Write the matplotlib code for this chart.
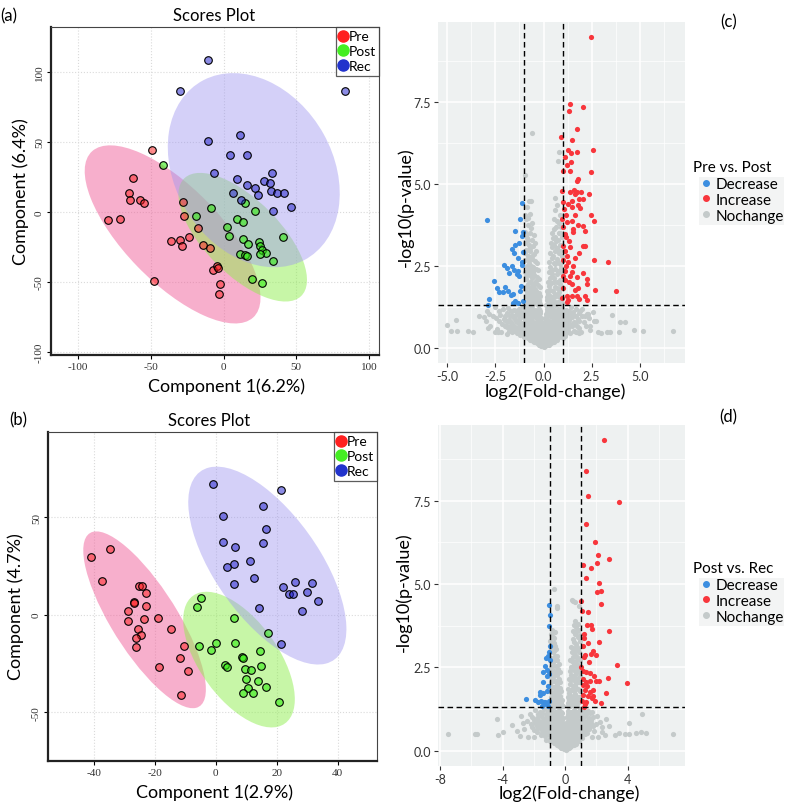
import numpy as np
import matplotlib.pyplot as plt
from matplotlib.patches import Ellipse, Rectangle
from matplotlib.lines import Line2D

plt.rcParams['font.family'] = ['Lato', 'DejaVu Sans']

# ---------------- scores plot (a): Pre / Post / Rec
pre_a = [(-49.3, 44.2), (-62.3, 24.0), (-65.0, 13.8), (-64.1, 8.8), (-57.7, 8.8), (-55.0, 6.2),
         (-79.4, -5.7), (-71.4, -4.8), (-27.8, 6.9), (-27.3, -2.9), (-17.7, -11.4), (-23.9, -17.6),
         (-36.2, -20.7), (-29.6, -20.0), (-28.4, -24.5), (-14.1, -23.3), (-9.3, -25.9), (-7.4, -41.1),
         (-4.2, -38.7), (-3.5, -40.1), (-48.0, -49.4), (-2.6, -51.3), (-3.1, -58.7)]
post_a = [(-41.7, 33.7), (-8.3, 2.6), (-18.9, -2.9), (15.0, 6.2), (21.8, 0.5), (9.6, -4.8),
          (13.5, -7.4), (2.4, -10.9), (3.5, -17.3), (13.5, -19.2), (16.8, -22.8), (24.1, -21.1),
          (24.8, -24.5), (26.2, -26.8), (29.0, -29.2), (25.3, -29.9), (11.3, -29.7), (15.1, -30.6),
          (16.3, -31.6), (34.2, -34.7), (40.6, -18.1), (19.5, -47.7), (26.6, -50.4)]
rec_a = [(-10.6, 108.1), (-29.6, 86.2), (83.8, 86.2), (11.3, 55.1), (-10.9, 50.8), (4.5, 40.9),
         (16.1, 40.9), (-6.3, 27.6), (9.0, 23.3), (16.3, 19.2), (21.6, 17.1), (24.0, 12.1),
         (6.3, 13.8), (12.0, 8.3), (28.0, 22.3), (32.0, 20.9), (33.6, 28.0), (32.8, 15.2),
         (37.1, 13.8), (41.7, 13.8), (46.3, 3.8), (34.2, 0.5)]
# ellipses: centre x, centre y, width, height, angle (data units)
ell_a = [(-35.0, -16.0, 162.2, 66.6, -47.0),
         (13.2, -18.0, 116.2, 52.2, -46.6),
         (20.8, 29.8, 145.8, 109.0, -61.8)]

# ---------------- scores plot (b)
pre_b = [(-41.1, 29.7), (-34.9, 33.8), (-37.4, 17.3), (-25.2, 14.5), (-24.1, 14.9), (-22.8, 10.9),
         (-27.0, 6.7), (-26.9, 6.2), (-29.0, 2.1), (-22.8, 4.4), (-29.0, -3.1), (-23.6, -2.2),
         (-19.1, -1.9), (-25.5, -7.4), (-24.5, -10.3), (-26.1, -12.1), (-26.1, -16.8), (-14.7, -7.2),
         (-10.5, -16.2), (-11.7, -22.4), (-18.8, -27.0), (-9.0, -28.7), (-11.6, -41.4)]
post_b = [(-5.0, 8.7), (-6.3, 4.1), (5.9, -1.7), (17.2, -9.4), (-5.6, -16.2), (-1.6, -17.9),
          (-0.1, -14.5), (6.2, -14.5), (14.4, -18.5), (8.5, -21.9), (9.0, -22.2), (3.0, -25.6),
          (3.5, -26.8), (9.6, -27.7), (11.4, -28.5), (14.7, -26.2), (9.8, -33.2), (13.9, -33.8),
          (16.4, -37.3), (10.6, -37.8), (8.8, -40.3), (12.1, -40.2), (20.6, -44.6)]
rec_b = [(-0.8, 67.0), (21.3, 64.1), (15.6, 55.6), (2.4, 50.4), (16.3, 43.9), (2.2, 37.3),
         (6.2, 34.7), (15.4, 36.6), (11.1, 27.4), (5.9, 25.8), (3.8, 24.4), (12.5, 19.0),
         (6.0, 15.6), (22.0, 14.4), (26.0, 16.6), (31.4, 16.4), (23.9, 10.6), (25.4, 10.4),
         (29.8, 11.6), (33.4, 7.0), (14.2, 3.2), (28.4, 1.9), (21.4, -15.0)]
ell_b = [(-23.4, -2.6, 96.4, 23.4, -69.5),
         (7.6, -23.0, 73.4, 28.2, -69.8),
         (16.9, 25.2, 107.6, 37.6, -69.2)]

# ---------------- volcano (c): Pre vs. Post
inc_c = [(2.47, 9.50), (1.36, 7.44), (2.04, 7.35), (1.33, 7.24), (1.76, 6.69), (1.46, 6.35),
         (0.93, 6.44), (1.26, 6.04), (1.43, 5.95), (1.72, 5.99), (2.59, 6.04), (1.10, 5.84),
         (1.45, 5.67), (1.20, 5.57), (1.00, 5.41), (1.38, 5.41), (2.45, 5.38), (1.78, 5.16),
         (1.74, 5.11), (0.98, 4.80), (1.40, 4.77), (1.57, 4.83), (1.76, 4.75), (1.97, 4.77),
         (2.37, 4.70), (1.65, 4.70), (1.03, 4.45), (1.48, 4.50), (1.86, 4.55), (2.07, 4.55),
         (1.26, 4.40), (1.81, 4.35), (1.46, 4.29), (1.07, 4.24), (1.88, 4.27), (2.47, 4.06),
         (2.61, 3.89), (1.17, 4.06), (0.96, 3.94), (1.20, 3.84), (1.48, 3.89), (1.78, 3.75),
         (2.04, 3.73), (2.16, 3.58), (1.03, 3.68), (1.55, 3.63), (1.52, 3.53), (1.10, 3.48),
         (1.15, 3.38), (1.03, 3.12), (1.36, 3.07), (2.04, 3.12), (2.14, 3.10), (1.10, 2.97),
         (1.86, 2.90), (1.20, 2.82), (1.03, 2.67), (2.61, 2.69), (3.35, 2.62), (1.17, 2.49),
         (1.55, 2.51), (1.12, 2.36), (1.46, 2.31), (2.04, 2.29), (1.03, 2.21), (1.38, 2.21),
         (1.72, 2.16), (2.26, 2.11), (2.26, 1.95), (1.10, 2.06), (1.35, 2.00), (1.50, 1.95),
         (1.03, 1.82), (1.64, 1.78), (1.78, 1.82), (2.69, 1.77), (3.75, 1.73), (1.20, 1.60),
         (1.46, 1.58), (1.72, 1.60), (1.29, 1.47), (1.83, 1.48), (2.26, 1.47), (1.20, 1.41),
         (0.96, 1.52), (2.16, 1.58), (1.25, 2.62), (1.62, 2.75), (1.30, 3.25), (1.65, 4.05)]
dec_c = [(-2.94, 3.92), (-1.10, 4.43), (-1.22, 3.94), (-1.46, 3.56), (-1.13, 3.41), (-1.29, 3.21),
         (-1.48, 3.15), (-1.64, 3.02), (-1.55, 2.89), (-1.08, 2.94), (-1.32, 2.74), (-2.05, 2.54),
         (-1.92, 2.43), (-1.66, 2.51), (-1.53, 2.39), (-1.31, 2.36), (-1.14, 2.53), (-1.40, 2.26),
         (-1.26, 2.19), (-1.79, 2.29), (-2.57, 2.03), (-2.42, 1.84), (-2.29, 1.72), (-2.00, 1.86),
         (-2.08, 1.70), (-1.82, 1.74), (-1.70, 1.62), (-1.57, 1.65), (-1.19, 1.90), (-1.22, 1.75),
         (-2.85, 1.50), (-2.90, 1.31), (-1.48, 1.44), (-1.34, 1.37), (-1.60, 1.37), (-1.08, 1.44),
         (-1.12, 2.62), (-1.08, 3.53)]
same_c = [(-0.58, 6.55), (0.81, 5.99), (0.75, 5.71), (-0.98, 5.28), (-0.65, 4.50), (0.58, 4.57),
          (-0.75, 4.48), (-0.95, 4.05),
          (-0.92, 3.95), (-0.8, 3.75), (-0.95, 3.55), (-0.72, 3.5), (-0.86, 3.35), (-0.62, 3.3),
          (-0.98, 3.2), (-0.76, 3.15), (-0.55, 3.1), (-0.9, 3.0), (-0.68, 2.95), (-0.5, 2.88),
          (-0.82, 2.8), (-0.6, 2.72), (-0.95, 2.68), (-0.45, 2.65), (-0.74, 2.58), (-0.88, 2.5),
          (-0.55, 2.48), (-0.4, 2.42), (-0.66, 2.38), (-0.96, 2.32), (-0.8, 2.28), (-0.48, 2.22),
          (-0.35, 2.18), (-0.6, 2.12), (-0.9, 2.1), (-0.72, 2.02), (-0.42, 1.98), (-0.3, 1.92),
          (-0.55, 1.9), (-0.85, 1.88), (-0.98, 1.8), (-0.65, 1.78), (-0.38, 1.74), (-0.26, 1.68),
          (-0.5, 1.66), (-0.76, 1.64), (-0.92, 1.58), (-0.6, 1.55), (-0.32, 1.52), (-0.22, 1.45),
          (-0.44, 1.42), (-0.7, 1.44), (-0.84, 1.4), (-0.98, 1.36), (-0.55, 1.34), (-0.3, 1.32),
          (-0.85, 4.3), (-0.68, 4.1), (-0.82, 3.98), (-0.58, 3.8), (-0.66, 3.65), (-0.9, 3.45),
          (-0.5, 3.45), (-0.8, 3.3), (-0.45, 3.2), (-0.7, 3.05), (-0.95, 2.9), (-0.38, 2.95),
          (-0.58, 2.82), (-0.75, 2.72), (-0.35, 2.6), (-0.65, 2.5), (-0.82, 2.4), (-0.28, 2.38),
          (-0.52, 2.32), (-0.7, 2.22), (-0.92, 2.2), (-0.25, 2.1), (-0.4, 2.05), (-0.62, 1.98),
          (-0.8, 1.96), (-0.2, 1.85), (-0.46, 1.8), (-0.7, 1.82), (-0.88, 1.72), (-0.34, 1.62),
          (-0.62, 1.68), (-0.18, 1.58), (-0.44, 1.55), (-0.8, 1.52), (-0.26, 1.4), (-0.52, 1.45),
          (-0.66, 1.3), (-0.9, 1.3), (-0.16, 1.35),
          (0.62, 4.2), (0.85, 4.05), (0.7, 3.88), (0.92, 3.7), (0.55, 3.62), (0.78, 3.5),
          (0.96, 3.4), (0.5, 3.35), (0.66, 3.25), (0.88, 3.15), (0.45, 3.08), (0.58, 2.95),
          (0.8, 2.9), (0.95, 2.8), (0.42, 2.75), (0.68, 2.7), (0.52, 2.58), (0.86, 2.55),
          (0.36, 2.48), (0.62, 2.42), (0.75, 2.35), (0.95, 2.3), (0.45, 2.25), (0.32, 2.15),
          (0.56, 2.12), (0.84, 2.08), (0.7, 2.0), (0.4, 1.98), (0.28, 1.88), (0.6, 1.85),
          (0.92, 1.82), (0.5, 1.75), (0.78, 1.72), (0.24, 1.65), (0.36, 1.6), (0.66, 1.58),
          (0.88, 1.55), (0.45, 1.5), (0.2, 1.45), (0.56, 1.42), (0.74, 1.4), (0.98, 1.38),
          (0.32, 1.35), (0.62, 1.32),
          (0.72, 4.35), (0.55, 3.95), (0.82, 3.8), (0.65, 3.7), (0.45, 3.5), (0.88, 3.5),
          (0.6, 3.4), (0.75, 3.3), (0.4, 3.2), (0.95, 3.15), (0.52, 3.15), (0.7, 3.05),
          (0.36, 2.9), (0.85, 2.95), (0.5, 2.82), (0.75, 2.62), (0.3, 2.62), (0.6, 2.55),
          (0.92, 2.45), (0.45, 2.38), (0.28, 2.32), (0.68, 2.25), (0.52, 2.02), (0.22, 2.0),
          (0.85, 1.95), (0.35, 1.78), (0.7, 1.82), (0.18, 1.75), (0.58, 1.65), (0.8, 1.6),
          (0.3, 1.45), (0.4, 1.35), (0.85, 1.42), (0.16, 1.55), (0.5, 1.55), (0.15, 1.3),
          (-2.52, 1.24), (-2.1, 1.18), (-1.82, 1.22), (-1.55, 1.15), (-1.28, 1.2), (-1.05, 1.25),
          (-0.82, 1.18), (-0.62, 1.22), (-0.42, 1.16), (-0.24, 1.2), (0.2, 1.18), (0.38, 1.24),
          (0.55, 1.15), (0.75, 1.2), (0.95, 1.22), (1.18, 1.16), (1.42, 1.25), (1.7, 1.18),
          (2.02, 1.2), (2.33, 1.04),
          (-2.3, 1.12), (-1.7, 1.12), (-1.42, 1.14), (-1.18, 1.1), (-0.95, 1.14), (-0.72, 1.1),
          (-0.52, 1.14), (-0.34, 1.1), (-0.18, 1.13), (0.18, 1.1), (0.34, 1.14), (0.6, 1.1),
          (0.85, 1.13), (1.05, 1.1), (1.3, 1.14), (1.55, 1.1), (1.88, 1.12),
          (-2.83, 1.04), (-2.25, 1.02), (-1.92, 1.08), (-1.65, 1.0), (-1.38, 1.06), (-1.12, 1.02),
          (-0.92, 1.08), (-0.72, 1.0), (-0.52, 1.05), (-0.32, 1.02), (-0.16, 1.06), (0.14, 1.04),
          (0.3, 1.0), (0.48, 1.07), (0.66, 1.02), (0.86, 1.06), (1.08, 1.0), (1.3, 1.08),
          (1.55, 1.02), (1.86, 1.06), (2.26, 1.04), (2.0, 0.99),
          (-2.6, 0.98), (-2.0, 0.96), (-1.75, 0.97), (-1.48, 0.98), (-1.22, 0.96), (-1.0, 0.98),
          (-0.8, 0.97), (-0.6, 0.96), (-0.4, 0.98), (-0.22, 0.96), (0.2, 0.97), (0.38, 0.96),
          (0.56, 0.98), (0.76, 0.96), (0.96, 0.98), (1.18, 0.96), (1.42, 0.97), (1.68, 0.98),
          (2.15, 0.96),
          (-3.0, 0.83), (-2.45, 0.92), (-2.07, 0.89), (-1.78, 0.86), (-1.52, 0.92), (-1.26, 0.88),
          (-1.04, 0.94), (-0.85, 0.86), (-0.65, 0.9), (-0.46, 0.94), (-0.28, 0.88), (-0.12, 0.92),
          (0.1, 0.9), (0.24, 0.86), (0.42, 0.93), (0.62, 0.88), (0.82, 0.92), (1.02, 0.86),
          (1.26, 0.9), (1.5, 0.94), (1.78, 0.88), (2.35, 0.91), (2.6, 0.83),
          (-2.3, 0.82), (-1.98, 0.84), (-1.7, 0.8), (-1.45, 0.82), (-1.2, 0.8), (-0.98, 0.84),
          (-0.78, 0.81), (-0.58, 0.83), (-0.38, 0.8), (-0.2, 0.83), (0.03, 0.8), (0.18, 0.82),
          (0.34, 0.8), (0.52, 0.84), (0.72, 0.8), (0.92, 0.83), (1.12, 0.81), (1.34, 0.84),
          (1.56, 0.8), (1.85, 0.82),
          (-2.77, 0.68), (-2.16, 0.73), (-1.88, 0.78), (-1.62, 0.72), (-1.38, 0.8), (-1.16, 0.74),
          (-0.96, 0.78), (-0.76, 0.72), (-0.56, 0.77), (-0.38, 0.72), (-0.2, 0.76), (-0.07, 0.7),
          (0.08, 0.74), (0.2, 0.7), (0.36, 0.78), (0.54, 0.73), (0.74, 0.77), (0.94, 0.72),
          (1.15, 0.78), (1.38, 0.72), (1.62, 0.76), (2.09, 0.78), (2.43, 0.68),
          (-2.0, 0.68), (-1.76, 0.66), (-1.52, 0.68), (-1.28, 0.66), (-1.08, 0.68), (-0.88, 0.66),
          (-0.7, 0.68), (-0.5, 0.66), (-0.34, 0.68), (-0.12, 0.66), (0.0, 0.68), (0.12, 0.66),
          (0.28, 0.68), (0.44, 0.66), (0.62, 0.68), (0.84, 0.66), (1.04, 0.68), (1.26, 0.66),
          (1.5, 0.68), (1.75, 0.66), (2.2, 0.66),
          (-2.44, 0.58), (-1.9, 0.63), (-1.66, 0.57), (-1.42, 0.62), (-1.2, 0.58), (-1.0, 0.63),
          (-0.8, 0.57), (-0.62, 0.61), (-0.45, 0.58), (-0.3, 0.62), (-0.16, 0.57), (-0.05, 0.6),
          (0.05, 0.58), (0.17, 0.62), (0.32, 0.57), (0.48, 0.61), (0.66, 0.58), (0.86, 0.62),
          (1.06, 0.57), (1.28, 0.61), (1.57, 0.53), (1.82, 0.6),
          (-1.8, 0.53), (-1.52, 0.52), (-1.28, 0.54), (-1.06, 0.51), (-0.84, 0.53), (-0.64, 0.52),
          (-0.48, 0.54), (-0.34, 0.51), (-0.2, 0.53), (-0.06, 0.51), (0.06, 0.53), (0.2, 0.51),
          (0.34, 0.54), (0.5, 0.52), (0.66, 0.54), (0.84, 0.51), (1.04, 0.53), (1.26, 0.52),
          (1.7, 0.5),
          (-2.35, 0.48), (-1.64, 0.48), (-1.4, 0.45), (-1.16, 0.47), (-0.94, 0.44), (-0.74, 0.47),
          (-0.56, 0.44), (-0.4, 0.47), (-0.26, 0.44), (-0.13, 0.46), (0.0, 0.44), (0.12, 0.47),
          (0.26, 0.44), (0.4, 0.46), (0.56, 0.44), (0.74, 0.47), (0.94, 0.44), (1.16, 0.46),
          (1.4, 0.45), (1.97, 0.48), (2.85, 0.5),
          (-1.2, 0.38), (-0.88, 0.37), (-0.66, 0.39), (-0.48, 0.37), (-0.34, 0.39), (-0.2, 0.37),
          (-0.08, 0.39), (0.04, 0.37), (0.16, 0.39), (0.3, 0.37), (0.46, 0.39), (0.64, 0.37),
          (0.86, 0.39), (1.1, 0.37),
          (-1.0, 0.32), (-0.78, 0.3), (-0.58, 0.33), (-0.42, 0.29), (-0.28, 0.32), (-0.15, 0.3),
          (-0.04, 0.33), (0.06, 0.29), (0.18, 0.32), (0.3, 0.3), (0.45, 0.33), (0.62, 0.29),
          (0.8, 0.32), (1.0, 0.3),
          (-0.7, 0.23), (-0.52, 0.22), (-0.38, 0.24), (-0.24, 0.22), (-0.12, 0.24), (0.0, 0.22),
          (0.12, 0.24), (0.24, 0.22), (0.36, 0.24), (0.52, 0.22), (0.7, 0.24),
          (-0.5, 0.18), (-0.35, 0.15), (-0.22, 0.17), (-0.1, 0.14), (0.02, 0.16), (0.14, 0.14),
          (0.27, 0.17), (0.4, 0.15), (0.55, 0.18), (-0.12, 0.06), (0.0, 0.03), (0.1, 0.05),
          (-0.26, 0.1), (-0.16, 0.08), (0.06, 0.1), (0.2, 0.09), (0.3, 0.1),
          (-5.0, 0.70), (-4.55, 0.86), (-4.81, 0.51), (-4.51, 0.51), (-3.94, 0.51), (-3.65, 0.50),
          (-3.34, 0.99), (-2.94, 1.14), (-2.9, 0.62), (-2.5, 0.48), (3.54, 1.01), (3.28, 0.5),
          (3.47, 0.48), (3.98, 0.80), (4.24, 0.78), (3.94, 0.50), (4.7, 0.55), (5.19, 0.51),
          (6.73, 0.51), (2.73, 0.83), (2.42, 0.55), (3.0, 0.45), (2.55, 1.1), (1.85, 0.45),
          (-2.2, 0.5), (-1.9, 0.42), (-3.1, 0.95)]

# ---------------- volcano (d): Post vs. Rec
inc_d = [(2.49, 9.33), (1.30, 8.40), (1.45, 7.64), (3.41, 7.46), (1.32, 6.81), (1.88, 6.27),
         (2.11, 5.87), (2.79, 5.74), (1.17, 5.58), (2.05, 5.62), (1.62, 5.47), (1.34, 5.18),
         (2.13, 5.04), (2.03, 4.77), (2.32, 4.78), (1.02, 4.50), (2.28, 4.39), (1.09, 4.18),
         (1.49, 4.15), (1.41, 3.77), (1.62, 3.77), (1.73, 3.65), (1.19, 3.49), (1.19, 3.39),
         (2.81, 3.58), (1.43, 3.23), (1.15, 3.13), (2.15, 3.25), (1.79, 2.98), (1.66, 2.90),
         (2.00, 2.87), (1.26, 2.87), (1.19, 2.80), (1.54, 2.65), (1.02, 2.50), (1.15, 2.40),
         (1.32, 2.35), (1.60, 2.33), (1.83, 2.25), (3.30, 2.56), (2.75, 2.17), (3.97, 2.04),
         (1.15, 2.15), (1.36, 2.07), (1.58, 2.10), (1.94, 2.10), (2.17, 2.10), (1.11, 1.97),
         (1.41, 1.95), (1.26, 1.83), (1.58, 1.75), (1.77, 1.82), (2.58, 1.73), (1.11, 1.67),
         (1.47, 1.63), (1.79, 1.65), (1.09, 1.50), (1.36, 1.47), (1.90, 1.49), (2.26, 1.43),
         (1.28, 1.40), (1.19, 1.32), (1.70, 1.57)]
dec_d = [(-1.02, 4.38), (-0.98, 4.07), (-1.02, 3.75), (-0.98, 3.13), (-1.04, 2.95), (-1.11, 2.85),
         (-1.22, 2.77), (-0.98, 2.73), (-1.32, 2.55), (-1.19, 2.43), (-1.39, 2.35), (-1.19, 2.25),
         (-1.02, 2.30), (-1.41, 2.07), (-1.07, 1.95), (-1.58, 1.77), (-1.41, 1.73), (-1.62, 1.67),
         (-2.52, 1.55), (-1.90, 1.53), (-1.71, 1.45), (-1.56, 1.50), (-1.36, 1.45), (-1.24, 1.40),
         (-1.09, 1.35), (-1.51, 1.35), (-1.02, 1.50), (-1.19, 1.80), (-1.28, 1.45)]
same_d = [(-0.72, 4.85), (-0.51, 4.35), (-0.55, 4.27), (0.51, 4.5), (0.62, 4.45), (0.9, 4.35),
          (0.45, 4.52),
          (-0.85, 3.62), (-0.62, 3.55), (-0.78, 3.4), (-0.95, 3.3), (-0.7, 3.22), (-0.88, 3.1),
          (-0.58, 3.05), (-0.8, 2.95), (-0.66, 2.85), (-0.92, 2.78), (-0.52, 2.72), (-0.75, 2.65),
          (-0.6, 2.55), (-0.88, 2.5), (-0.45, 2.45), (-0.7, 2.4), (-0.95, 2.32), (-0.55, 2.28),
          (-0.8, 2.2), (-0.4, 2.15), (-0.65, 2.1), (-0.9, 2.05), (-0.5, 1.98), (-0.75, 1.92),
          (-0.35, 1.88), (-0.6, 1.82), (-0.95, 1.78), (-0.45, 1.72), (-0.82, 1.7), (-0.3, 1.65),
          (-0.68, 1.6), (-0.55, 1.52), (-0.92, 1.5), (-0.38, 1.48), (-0.25, 1.42), (-0.76, 1.42),
          (-0.62, 1.36), (-0.45, 1.34), (-0.98, 1.35), (-0.3, 1.32),
          (-0.9, 3.5), (-0.72, 3.38), (-0.85, 3.2), (-0.62, 3.15), (-0.95, 3.0), (-0.72, 2.98),
          (-0.5, 2.85), (-0.85, 2.7), (-0.65, 2.72), (-0.42, 2.6), (-0.78, 2.55), (-0.95, 2.45),
          (-0.55, 2.4), (-0.35, 2.35), (-0.68, 2.3), (-0.88, 2.2), (-0.48, 2.12), (-0.3, 2.05),
          (-0.78, 2.08), (-0.6, 1.95), (-0.92, 1.92), (-0.4, 1.85), (-0.25, 1.8), (-0.7, 1.75),
          (-0.52, 1.7), (-0.88, 1.62), (-0.35, 1.58), (-0.2, 1.52), (-0.62, 1.48), (-0.8, 1.55),
          (-0.45, 1.42), (-0.9, 1.4), (-0.7, 1.3), (-0.15, 1.35),
          (0.55, 3.78), (0.72, 3.7), (0.88, 3.62), (0.62, 3.5), (0.8, 3.42), (0.48, 3.35),
          (0.95, 3.3), (0.68, 3.2), (0.52, 3.08), (0.85, 3.05), (0.42, 2.95), (0.6, 2.88),
          (0.78, 2.8), (0.95, 2.72), (0.46, 2.68), (0.66, 2.6), (0.38, 2.5), (0.86, 2.48),
          (0.55, 2.42), (0.72, 2.35), (0.34, 2.28), (0.95, 2.25), (0.48, 2.18), (0.62, 2.1),
          (0.82, 2.05), (0.3, 2.0), (0.55, 1.95), (0.72, 1.88), (0.4, 1.82), (0.92, 1.8),
          (0.26, 1.72), (0.6, 1.7), (0.8, 1.62), (0.46, 1.58), (0.22, 1.52), (0.68, 1.5),
          (0.9, 1.45), (0.35, 1.42), (0.55, 1.38), (0.2, 1.35), (0.78, 1.34),
          (0.62, 3.9), (0.8, 3.8), (0.48, 3.6), (0.7, 3.55), (0.92, 3.48), (0.55, 3.25),
          (0.78, 3.12), (0.4, 3.1), (0.62, 3.0), (0.9, 2.95), (0.5, 2.8), (0.72, 2.7),
          (0.32, 2.72), (0.58, 2.6), (0.82, 2.58), (0.45, 2.5), (0.68, 2.48), (0.28, 2.4),
          (0.88, 2.35), (0.6, 2.28), (0.4, 2.12), (0.75, 2.15), (0.25, 2.15), (0.92, 2.05),
          (0.48, 1.95), (0.65, 1.98), (0.2, 1.85), (0.82, 1.85), (0.55, 1.8), (0.35, 1.65),
          (0.7, 1.6), (0.95, 1.6), (0.18, 1.6), (0.5, 1.48), (0.28, 1.35), (0.68, 1.35),
          (0.85, 1.55), (0.15, 1.42),
          (-2.24, 1.1), (-1.9, 1.22), (-1.6, 1.16), (-1.35, 1.24), (-1.1, 1.18), (-0.88, 1.22),
          (-0.68, 1.15), (-0.48, 1.2), (-0.28, 1.16), (0.2, 1.2), (0.38, 1.15), (0.56, 1.22),
          (0.76, 1.16), (0.96, 1.24), (1.2, 1.18), (1.45, 1.2), (1.7, 1.15), (2.03, 1.05),
          (-1.75, 1.1), (-1.48, 1.12), (-1.22, 1.1), (-0.98, 1.13), (-0.78, 1.1), (-0.58, 1.12),
          (-0.38, 1.1), (-0.2, 1.12), (0.18, 1.1), (0.3, 1.12), (0.48, 1.1), (0.66, 1.12),
          (0.86, 1.1), (1.08, 1.12), (1.32, 1.1), (1.58, 1.12),
          (-2.45, 0.9), (-2.1, 1.02), (-1.82, 0.98), (-1.55, 1.04), (-1.3, 0.98), (-1.08, 1.04),
          (-0.86, 0.98), (-0.66, 1.03), (-0.46, 0.97), (-0.28, 1.02), (-0.14, 0.98), (0.12, 1.02),
          (0.28, 0.97), (0.46, 1.03), (0.65, 0.98), (0.84, 1.04), (1.05, 0.98), (1.28, 1.03),
          (1.52, 0.97), (1.8, 1.02), (2.24, 0.85),
          (-2.0, 0.92), (-1.7, 0.9), (-1.42, 0.92), (-1.18, 0.9), (-0.96, 0.92), (-0.76, 0.9),
          (-0.56, 0.92), (-0.36, 0.9), (-0.18, 0.92), (0.2, 0.9), (0.36, 0.92), (0.56, 0.9),
          (0.74, 0.92), (0.94, 0.9), (1.16, 0.92), (1.4, 0.9), (1.66, 0.92),
          (-2.71, 0.82), (-2.2, 0.8), (-1.92, 0.84), (-1.66, 0.78), (-1.4, 0.84), (-1.16, 0.8),
          (-0.95, 0.85), (-0.75, 0.79), (-0.56, 0.84), (-0.38, 0.8), (-0.2, 0.83), (-0.08, 0.78),
          (0.08, 0.82), (0.2, 0.78), (0.36, 0.84), (0.55, 0.79), (0.74, 0.84), (0.94, 0.8),
          (1.16, 0.84), (1.4, 0.78), (1.66, 0.83), (1.95, 0.8), (2.35, 0.7),
          (-2.1, 0.72), (-1.8, 0.73), (-1.55, 0.72), (-1.3, 0.74), (-1.08, 0.72), (-0.88, 0.73),
          (-0.68, 0.72), (-0.48, 0.74), (-0.3, 0.72), (-0.12, 0.73), (0.02, 0.72), (0.14, 0.74),
          (0.28, 0.72), (0.45, 0.74), (0.64, 0.72), (0.84, 0.74), (1.05, 0.72), (1.28, 0.74),
          (1.52, 0.72), (1.8, 0.73),
          (-2.62, 0.65), (-2.0, 0.62), (-1.75, 0.67), (-1.5, 0.62), (-1.26, 0.67), (-1.04, 0.62),
          (-0.84, 0.66), (-0.64, 0.61), (-0.46, 0.66), (-0.3, 0.62), (-0.16, 0.66), (-0.05, 0.62),
          (0.05, 0.66), (0.16, 0.62), (0.3, 0.66), (0.46, 0.61), (0.64, 0.66), (0.84, 0.62),
          (1.05, 0.66), (1.28, 0.61), (1.55, 0.66), (1.85, 0.6),
          (-1.8, 0.55), (-1.5, 0.54), (-1.24, 0.56), (-1.0, 0.54), (-0.78, 0.56), (-0.6, 0.54),
          (-0.44, 0.56), (-0.28, 0.54), (-0.14, 0.56), (-0.02, 0.54), (0.1, 0.56), (0.22, 0.54),
          (0.36, 0.56), (0.52, 0.54), (0.7, 0.56), (0.9, 0.54), (1.12, 0.56), (1.4, 0.54),
          (-2.92, 0.45), (-1.55, 0.48), (-1.3, 0.45), (-1.08, 0.49), (-0.88, 0.45), (-0.7, 0.49),
          (-0.52, 0.45), (-0.36, 0.48), (-0.22, 0.45), (-0.1, 0.49), (0.02, 0.45), (0.14, 0.48),
          (0.28, 0.45), (0.44, 0.49), (0.62, 0.45), (0.8, 0.48), (1.0, 0.45), (1.25, 0.49),
          (2.56, 0.47),
          (-1.0, 0.39), (-0.8, 0.38), (-0.62, 0.4), (-0.45, 0.38), (-0.3, 0.4), (-0.17, 0.38),
          (-0.06, 0.4), (0.06, 0.38), (0.18, 0.4), (0.32, 0.38), (0.48, 0.4), (0.66, 0.38),
          (0.86, 0.4), (1.1, 0.38),
          (-1.2, 0.32), (-0.95, 0.28), (-0.75, 0.32), (-0.56, 0.28), (-0.4, 0.31), (-0.26, 0.28),
          (-0.14, 0.32), (-0.03, 0.28), (0.08, 0.32), (0.2, 0.28), (0.34, 0.31), (0.5, 0.28),
          (0.68, 0.32), (0.88, 0.3),
          (-0.7, 0.22), (-0.5, 0.23), (-0.36, 0.21), (-0.22, 0.23), (-0.1, 0.21), (0.02, 0.23),
          (0.14, 0.21), (0.26, 0.23), (0.4, 0.21), (0.56, 0.23), (0.72, 0.21),
          (-0.55, 0.16), (-0.38, 0.14), (-0.24, 0.17), (-0.12, 0.13), (0.0, 0.15), (0.12, 0.13),
          (0.25, 0.17), (0.4, 0.14), (0.55, 0.16), (-0.1, 0.05), (0.02, 0.03), (0.12, 0.06),
          (-0.28, 0.09), (-0.18, 0.08), (0.08, 0.09), (0.22, 0.08), (0.32, 0.1),
          (-7.46, 0.5), (-5.76, 0.5), (-5.65, 0.5), (-4.37, 0.95), (-4.31, 0.48), (-4.0, 0.55),
          (-3.41, 0.78), (-3.1, 0.6), (-2.85, 1.05), (2.35, 0.55), (2.8, 0.75), (3.2, 0.47),
          (3.41, 0.52), (4.05, 0.83), (3.84, 0.49), (4.11, 0.49), (4.54, 0.53), (4.84, 0.55),
          (5.18, 0.53), (4.9, 1.09), (6.89, 0.5), (2.1, 0.4), (-2.4, 0.42), (-2.0, 0.4),
          (1.7, 0.4), (2.6, 0.95)]

group_names = ['Pre', 'Post', 'Rec']
change_names = ['Decrease', 'Increase', 'Nochange']

fig = plt.figure(figsize=(7.86, 8.04), dpi=100)


def scores_plot(ax, groups, ells, xlim, ylim, xticks, yticks, xlab, ylab, xl_pos, yl_pos):
    ell_cols = ['#F0609A', '#90EE50', '#A098F0']
    ell_alpha = [0.5, 0.5, 0.45]
    pt_cols = [(1.0, 0.1, 0.1, 0.5), (0.2, 0.93, 0.07, 0.6), (0.1, 0.1, 0.8, 0.5)]
    for (cx, cy, w, h, ang), c, a in zip(ells, ell_cols, ell_alpha):
        ax.add_patch(Ellipse((cx, cy), w, h, angle=ang, facecolor=c, alpha=a,
                             edgecolor='none', zorder=1))
    for pts, c in zip(groups, pt_cols):
        pts = np.array(pts)
        ax.scatter(pts[:, 0], pts[:, 1], s=30, facecolor=c, edgecolor='black',
                   linewidth=0.8, zorder=3)
    ax.set_xlim(xlim)
    ax.set_ylim(ylim)
    ax.set_xticks(xticks)
    ax.set_yticks(yticks)
    ax.set_xticklabels([str(t) for t in xticks], family='Liberation Serif', fontsize=8, color='#333333')
    ax.set_yticklabels([str(t) for t in yticks], family='Liberation Serif', fontsize=8, color='#333333',
                       rotation=90, va='center')
    ax.tick_params(length=3, width=0.8, pad=2)
    ax.grid(True, color='#DADADA', linestyle=':', linewidth=0.8, zorder=0)
    ax.set_axisbelow(True)
    for s in ['left', 'bottom']:
        ax.spines[s].set_linewidth(1.6)
        ax.spines[s].set_color('#222222')
    for s in ['top', 'right']:
        ax.spines[s].set_linewidth(0.8)
        ax.spines[s].set_color('#444444')
    ax.set_xlabel(xlab, fontsize=13, va='center')
    ax.xaxis.set_label_coords(*xl_pos)
    ax.set_ylabel(ylab, fontsize=13, va='center')
    ax.yaxis.set_label_coords(*yl_pos)
    handles = [Line2D([], [], marker='o', ls='none', markersize=8, color=c)
               for c in ['#FF2020', '#44EE22', '#2233CC']]
    leg = ax.legend(handles, group_names, loc='upper right', borderaxespad=0, fancybox=False,
                    edgecolor='#333333', fontsize=10, handlelength=0.5, handletextpad=0.15,
                    labelspacing=0.2, borderpad=0.25)
    leg.get_frame().set_linewidth(0.9)


def volcano(ax, inc, dec, same, xlim, ylim, xticks, xticklabels, xminor, title, top):
    ax.set_facecolor('#EEF1F1')
    same = np.array(same)
    inc = np.array(inc)
    dec = np.array(dec)
    ax.scatter(same[:, 0], same[:, 1], s=14, color='#C4CACA', linewidth=0, zorder=2)
    ax.scatter(dec[:, 0], dec[:, 1], s=14, color='#3C8EE0', linewidth=0, zorder=3)
    ax.scatter(inc[:, 0], inc[:, 1], s=14, color='#F8363C', linewidth=0, zorder=3)
    ax.axvline(-1, color='black', lw=1, dashes=(4, 2.5), zorder=4)
    ax.axvline(1, color='black', lw=1, dashes=(4, 2.5), zorder=4)
    ax.axhline(1.3, color='black', lw=1, dashes=(4, 2.5), zorder=4)
    ax.set_xlim(xlim)
    ax.set_ylim(ylim)
    ax.set_xticks(xticks)
    ax.set_xticklabels(xticklabels)
    ax.set_xticks(xminor, minor=True)
    ax.set_yticks([0, 2.5, 5.0, 7.5])
    ax.set_yticklabels(['0.0', '2.5', '5.0', '7.5'])
    ax.set_yticks([1.25, 3.75, 6.25, 8.75], minor=True)
    ax.grid(True, which='major', color='white', lw=1.1, zorder=0)
    ax.grid(True, which='minor', color='white', lw=0.5, zorder=0)
    ax.set_axisbelow(True)
    ax.tick_params(which='major', length=3, width=0.8, color='#333333', labelsize=9,
                   labelcolor='#333333', pad=2)
    ax.tick_params(which='minor', length=0)
    for s in ax.spines.values():
        s.set_visible(False)
    # legend: title on its own, keys indented as in ggplot
    fig.text(693 / 786, 1 - (top - 10) / 804, title, fontsize=11, ha='left', va='center')
    fig.patches.append(Rectangle((699 / 786, 1 - (top + 48) / 804), 85 / 786, 48 / 804,
                                 transform=fig.transFigure, facecolor='#F3F4F4',
                                 edgecolor='none', zorder=-1))
    handles = [Line2D([], [], marker='o', ls='none', markersize=4, color=c)
               for c in ['#3C8EE0', '#F8363C', '#C4CACA']]
    ax.legend(handles, change_names, loc='upper left',
              bbox_to_anchor=(700 / 786, 1 - top / 804), bbox_transform=fig.transFigure,
              frameon=False, fontsize=11, handlelength=0.8, handletextpad=0.2,
              labelspacing=0.12, borderaxespad=0, borderpad=0)


ax_a = fig.add_axes([51 / 786, 1 - 356 / 804, 328 / 786, 328 / 804])
scores_plot(ax_a, [pre_a, post_a, rec_a], ell_a, (-118.6, 106.9), (-102, 131.9),
            [-100, -50, 0, 50, 100], [-100, -50, 0, 50, 100],
            'Component 1(6.2%)', 'Component (6.4%)', (0.534, -0.095), (-0.092, 0.5))

ax_b = fig.add_axes([48 / 786, 1 - 762 / 804, 329 / 786, 329 / 804])
scores_plot(ax_b, [pre_b, post_b, rec_b], ell_b, (-55.1, 52.9), (-75, 93.7),
            [-40, -20, 0, 20, 40], [-50, 0, 50],
            'Component 1(2.9%)', 'Component (4.7%)', (0.505, -0.094), (-0.097, 0.471))

ax_c = fig.add_axes([437.7 / 786, 1 - 364 / 804, 247 / 786, 341.3 / 804])
volcano(ax_c, inc_c, dec_c, same_c, (-5.5, 7.34), (-0.46, 9.96),
        [-5, -2.5, 0, 2.5, 5], ['-5.0', '-2.5', '0.0', '2.5', '5.0'],
        [-3.75, -1.25, 1.25, 3.75, 6.25], 'Pre vs. Post', 178)
ax_c.set_xlabel('log2(Fold-change)', fontsize=13, va='center')
ax_c.xaxis.set_label_coords(0.478, -0.080)
ax_c.set_ylabel('-log10(p-value)', fontsize=13, va='center')
ax_c.yaxis.set_label_coords(-0.132, 0.46)

ax_d = fig.add_axes([437.7 / 786, 1 - 766.7 / 804, 247 / 786, 340.7 / 804])
volcano(ax_d, inc_d, dec_d, same_d, (-8.15, 7.64), (-0.45, 9.77),
        [-8, -4, 0, 4], ['-8', '-4', '0', '4'],
        [-6, -2, 2, 6], 'Post vs. Rec', 579)
ax_d.set_xlabel('log2(Fold-change)', fontsize=13, va='center')
ax_d.xaxis.set_label_coords(0.532, -0.078)
ax_d.set_ylabel('-log10(p-value)', fontsize=13, va='center')
ax_d.yaxis.set_label_coords(-0.139, 0.511)

fig.text(214 / 786, 1 - 16 / 804, 'Scores Plot', fontsize=12, ha='center', va='center')
fig.text(209 / 786, 1 - 421 / 804, 'Scores Plot', fontsize=12, ha='center', va='center')
fig.text(0 / 786, 1 - 16 / 804, '(a)', fontsize=12, ha='left', va='center')
fig.text(9 / 786, 1 - 420 / 804, '(b)', fontsize=12, ha='left', va='center')
fig.text(720 / 786, 1 - 22 / 804, '(c)', fontsize=12, ha='left', va='center')
fig.text(719 / 786, 1 - 417 / 804, '(d)', fontsize=12, ha='left', va='center')

fig.savefig('out.png', dpi=100)
